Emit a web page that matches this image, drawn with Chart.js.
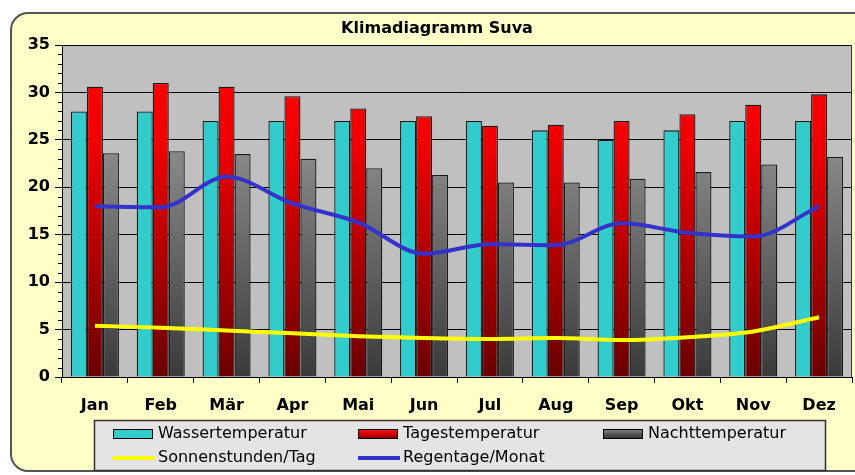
<!DOCTYPE html>
<html lang="de">
<head>
    <meta charset="utf-8">
    <title>Klimadiagramm Suva</title>
    <style>
        html, body { margin: 0; padding: 0; background: #fff; overflow: hidden; }
        #wrap { position: relative; width: 855px; height: 475px; }
        #frame {
            position: absolute; left: 10px; top: 12px; width: 880px; height: 456px;
            background: #FFFFC8; border: 2px solid #555; border-radius: 18px;
        }
        #klima { position: absolute; left: 0; top: 0; }
    </style>
</head>
<body>
<div id="wrap">
    <div id="frame"></div>
    <canvas id="klima" width="855" height="475"></canvas>
</div>

<script src="https://cdn.jsdelivr.net/npm/chart.js"></script>
<script>
    const monate = ['Jan', 'Feb', 'Mär', 'Apr', 'Mai', 'Jun', 'Jul', 'Aug', 'Sep', 'Okt', 'Nov', 'Dez'];
    const wasserTemp = [28, 28, 27, 27, 27, 27, 27, 26, 25, 26, 27, 27];
    const tagesTemp = [30.6, 31, 30.6, 29.6, 28.3, 27.5, 26.5, 26.6, 27, 27.7, 28.7, 29.8];
    const nachtTemp = [23.6, 23.8, 23.5, 23, 22, 21.3, 20.5, 20.5, 20.9, 21.6, 22.4, 23.2];
    const sonnenstunden = [5.4, 5.2, 4.9, 4.6, 4.3, 4.1, 4, 4.1, 3.9, 4.2, 4.8, 6.3];
    const regentage = [18, 17.9, 21.1, 18.3, 16.3, 13, 14, 13.9, 16.2, 15.2, 14.8, 18];
    const yTicks = [0, 5, 10, 15, 20, 25, 30, 35];
    const titel = 'Klimadiagramm Suva';

    const schrift = "'DejaVu Sans', sans-serif";

    // Verlauf über die Höhe der Zeichenfläche
    function verlauf(context, stops) {
        const area = context.chart.chartArea;
        if (!area) return stops[0][1];
        const g = context.chart.ctx.createLinearGradient(0, area.top, 0, area.bottom);
        stops.forEach(s => g.addColorStop(s[0], s[1]));
        return g;
    }
    const rotStops = [[0, '#FF0000'], [0.3, '#F00000'], [1, '#6A0000']];
    const grauStops = [[0, '#9A9A9A'], [0.35, '#868686'], [1, '#3A3A3A']];

    const extras = {
        id: 'extras',
        beforeDraw(chart) {
            const { ctx, chartArea: a } = chart;
            ctx.save();
            ctx.fillStyle = '#C0C0C0';
            ctx.fillRect(a.left, a.top, a.right - a.left, a.bottom - a.top);
            ctx.restore();
        },
        afterDraw(chart) {
            const { ctx, chartArea: a } = chart;
            const y = chart.scales.y;
            ctx.save();

            // rechter Rand der Zeichenfläche
            ctx.strokeStyle = '#333';
            ctx.lineWidth = 1;
            ctx.beginPath();
            ctx.moveTo(a.right - 0.5, a.top);
            ctx.lineTo(a.right - 0.5, a.bottom);
            ctx.stroke();

            // Hilfsstriche an der y-Achse
            ctx.strokeStyle = '#000';
            for (let v = yTicks[0]; v <= yTicks[yTicks.length - 1]; v++) {
                if (yTicks.includes(v)) continue;
                const py = Math.round(y.getPixelForValue(v)) + 0.5;
                ctx.beginPath();
                ctx.moveTo(a.left - 4, py);
                ctx.lineTo(a.left, py);
                ctx.stroke();
            }

            // Titel
            ctx.fillStyle = '#000';
            ctx.font = 'bold 16px ' + schrift;
            ctx.textAlign = 'center';
            ctx.textBaseline = 'middle';
            ctx.fillText(titel, 437, 29);

            // Legende
            ctx.fillStyle = '#E4E4E4';
            ctx.fillRect(94, 420, 732, 51);
            ctx.strokeStyle = '#333';
            ctx.lineWidth = 1.5;
            ctx.strokeRect(94.5, 420.5, 731, 50);

            const spalten = [113, 358, 603];
            const zeilen = [434, 458];
            ctx.font = '16px ' + schrift;
            ctx.textAlign = 'left';
            chart.data.datasets.forEach((ds, i) => {
                const x = spalten[i % 3];
                const yy = zeilen[Math.floor(i / 3)];
                if (ds.type === 'line') {
                    ctx.strokeStyle = ds.borderColor;
                    ctx.lineWidth = 4;
                    ctx.beginPath();
                    ctx.moveTo(x, yy);
                    ctx.lineTo(x + 42, yy);
                    ctx.stroke();
                } else {
                    let fill = ds.legendFarbe;
                    if (Array.isArray(fill)) {
                        const g = ctx.createLinearGradient(0, yy - 5, 0, yy + 5);
                        fill.forEach(s => g.addColorStop(s[0], s[1]));
                        fill = g;
                    }
                    ctx.fillStyle = fill;
                    ctx.fillRect(x, yy - 5, 40, 10);
                    ctx.strokeStyle = '#000';
                    ctx.lineWidth = 1;
                    ctx.strokeRect(x + 0.5, yy - 4.5, 39, 9);
                }
                ctx.fillStyle = '#000';
                ctx.fillText(ds.label, x + 45, yy);
            });
            ctx.restore();
        }
    };

    const config = {
        type: 'bar',
        data: {
            labels: monate,
            datasets: [
                {
                    label: 'Wassertemperatur',
                    data: wasserTemp,
                    backgroundColor: '#33CCCC',
                    legendFarbe: '#33CCCC',
                    borderColor: '#1A1A1A',
                    borderWidth: 1.3,
                    order: 1
                },
                {
                    label: 'Tagestemperatur',
                    data: tagesTemp,
                    backgroundColor: c => verlauf(c, rotStops),
                    legendFarbe: [[0, '#FF2020'], [0.5, '#D00000'], [1, '#800000']],
                    borderColor: '#1A1A1A',
                    borderWidth: 1.3,
                    order: 1
                },
                {
                    label: 'Nachttemperatur',
                    data: nachtTemp,
                    backgroundColor: c => verlauf(c, grauStops),
                    legendFarbe: [[0, '#888'], [0.5, '#555'], [1, '#333']],
                    borderColor: '#1A1A1A',
                    borderWidth: 1.3,
                    order: 1
                },
                {
                    type: 'line',
                    label: 'Sonnenstunden/Tag',
                    data: sonnenstunden,
                    borderColor: '#FFFF00',
                    borderWidth: 4,
                    pointRadius: 0,
                    cubicInterpolationMode: 'monotone',
                    fill: false,
                    order: 0
                },
                {
                    type: 'line',
                    label: 'Regentage/Monat',
                    data: regentage,
                    borderColor: '#3333CC',
                    borderWidth: 4,
                    pointRadius: 0,
                    cubicInterpolationMode: 'monotone',
                    fill: false,
                    order: 0
                }
            ]
        },
        options: {
            responsive: false,
            devicePixelRatio: 1,
            animation: false,
            layout: { padding: { top: 45, right: 3, left: 0, bottom: 0 } },
            datasets: { bar: { categoryPercentage: 0.73, barPercentage: 1 } },
            plugins: {
                legend: { display: false },
                title: { display: false },
                tooltip: { enabled: false }
            },
            scales: {
                x: {
                    grid: { offset: true, drawOnChartArea: false, color: '#000', tickLength: 6 },
                    border: { color: '#000' },
                    ticks: {
                        color: '#000',
                        font: { family: schrift, size: 16, weight: 'bold' },
                        padding: 13,
                        maxRotation: 0
                    },
                    afterFit(scale) { scale.height = 98; }
                },
                y: {
                    min: yTicks[0],
                    max: yTicks[yTicks.length - 1],
                    afterBuildTicks(scale) { scale.ticks = yTicks.map(v => ({ value: v })); },
                    grid: { color: '#000', tickLength: 7 },
                    border: { color: '#000' },
                    ticks: {
                        color: '#000',
                        font: { family: schrift, size: 16, weight: 'bold' },
                        padding: 5
                    },
                    afterFit(scale) { scale.width = 62; }
                }
            }
        },
        plugins: [extras]
    };

    new Chart(document.getElementById('klima').getContext('2d'), config);
</script>
</body>
</html>
